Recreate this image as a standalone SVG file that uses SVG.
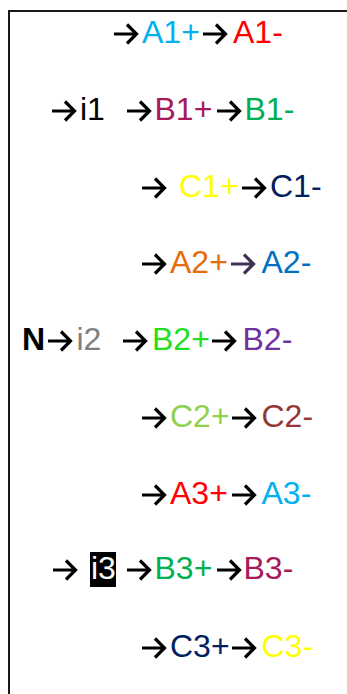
<svg xmlns="http://www.w3.org/2000/svg" width="347" height="694" viewBox="0 0 347 694">
<style>
text{font-family:"Liberation Sans",Arial,sans-serif;font-size:32px;}
.arr{fill:none;stroke:#000;stroke-width:3.2;stroke-linejoin:miter;}
</style>
<defs>
<path id="a" d="M0,0 H22.5 M13,-9.5 L22.5,0 L13,9.5"/>
</defs>
<rect x="9" y="11" width="400" height="720" fill="#fff" stroke="#000" stroke-width="1.8"/>
<g id="connectors" class="arr">
<use href="#a" transform="translate(114,34)"/>
<use href="#a" transform="translate(203,34)"/>
<use href="#a" transform="translate(52,111)"/>
<use href="#a" transform="translate(127,111)"/>
<use href="#a" transform="translate(217,111)"/>
<use href="#a" transform="translate(142,188)"/>
<use href="#a" transform="translate(242,188)"/>
<use href="#a" transform="translate(142,264)"/>
<use href="#a" transform="translate(231,264)" style="stroke:#403152"/>
<use href="#a" transform="translate(48,341)"/>
<use href="#a" transform="translate(123,341)"/>
<use href="#a" transform="translate(212,341)"/>
<use href="#a" transform="translate(142,418)"/>
<use href="#a" transform="translate(232,418)"/>
<use href="#a" transform="translate(142,495)"/>
<use href="#a" transform="translate(232,495)"/>
<use href="#a" transform="translate(53,570)"/>
<use href="#a" transform="translate(127,570)"/>
<use href="#a" transform="translate(217,570)"/>
<use href="#a" transform="translate(142,648)"/>
<use href="#a" transform="translate(232,648)"/>
</g>
<g id="A1p"><text x="142" y="43" fill="#00B0F0">A1+</text></g>
<g id="A1m"><text x="233" y="43" fill="#FF0000">A1-</text></g>
<g id="i1"><text x="80" y="120" fill="#000">i1</text></g>
<g id="B1p"><text x="154.5" y="120" fill="#A8195A">B1+</text></g>
<g id="B1m"><text x="244.5" y="120" fill="#00B050">B1-</text></g>
<g id="C1p"><text x="179" y="197" fill="#FFFF00">C1+</text></g>
<g id="C1m"><text x="270" y="197" fill="#002060">C1-</text></g>
<g id="A2p"><text x="170" y="273" fill="#E46C0A">A2+</text></g>
<g id="A2m"><text x="261.5" y="273" fill="#0070C0">A2-</text></g>
<g id="N"><text x="22" y="350" fill="#000" font-weight="bold">N</text></g>
<g id="i2"><text x="76.5" y="350" fill="#808080">i2</text></g>
<g id="B2p"><text x="152" y="350" fill="#20E020">B2+</text></g>
<g id="B2m"><text x="242.5" y="350" fill="#7030A0">B2-</text></g>
<g id="C2p"><text x="170" y="427" fill="#92D050">C2+</text></g>
<g id="C2m"><text x="261.5" y="427" fill="#953735">C2-</text></g>
<g id="A3p"><text x="170" y="504" fill="#FF0000">A3+</text></g>
<g id="A3m"><text x="261.5" y="504" fill="#00B0F0">A3-</text></g>
<g id="i3"><rect x="90" y="552" width="26" height="35" fill="#000"/><text x="91" y="579" fill="#fff">i3</text></g>
<g id="B3p"><text x="154.5" y="579" fill="#00B050">B3+</text></g>
<g id="B3m"><text x="243.5" y="579" fill="#A8195A">B3-</text></g>
<g id="C3p"><text x="170" y="657" fill="#002060">C3+</text></g>
<g id="C3m"><text x="261.5" y="657" fill="#FFFF00">C3-</text></g>
</svg>
